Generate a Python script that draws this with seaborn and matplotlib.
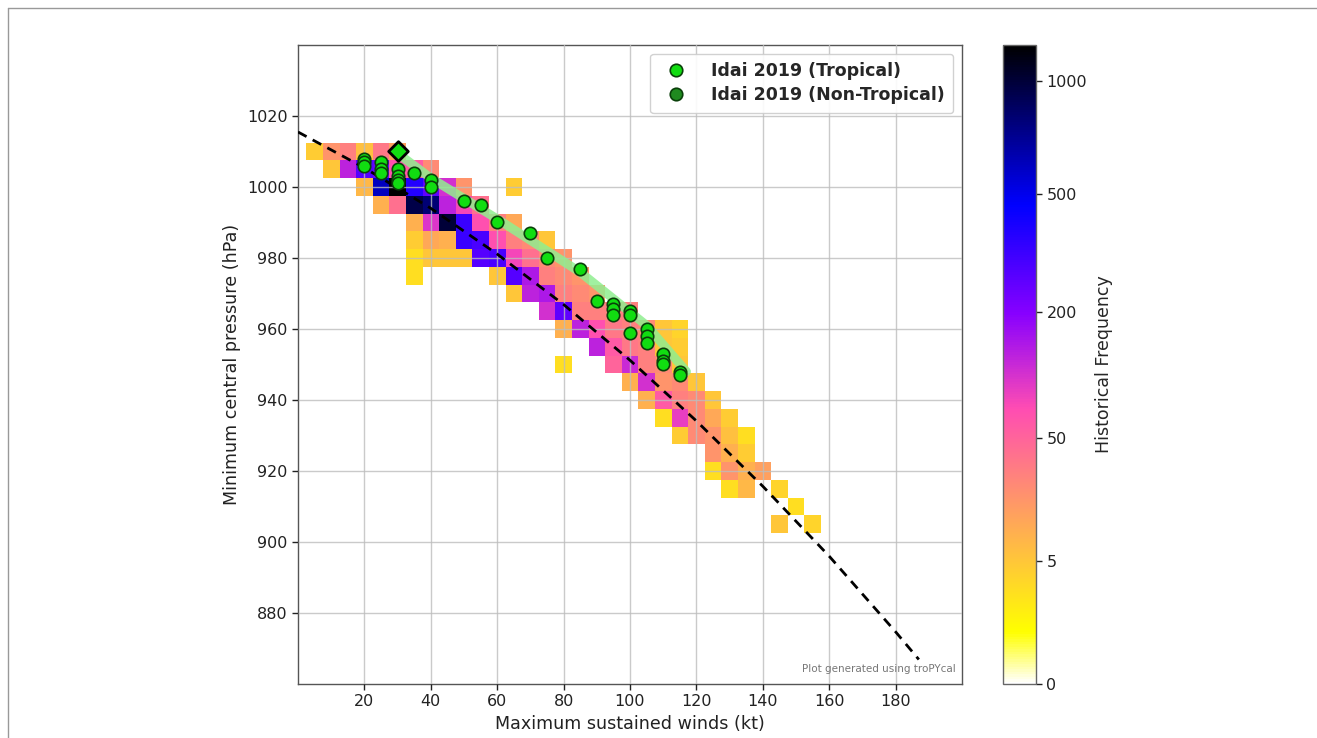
import numpy as np
import pandas as pd
import matplotlib
matplotlib.use("Agg")
import matplotlib.pyplot as plt
import matplotlib.colors as mcolors
from matplotlib.lines import Line2D
import seaborn as sns

# ---------------- data ----------------
# Historical wind/pressure histogram: 5-kt x 5-hPa cells (bin centres) and counts
cell_wind = [
    5, 10, 15, 20, 25, 30,                                  # 1010 hPa
    10, 15, 20, 25, 30, 35, 40,                              # 1005
    20, 25, 30, 35, 40, 45, 50, 65,                          # 1000
    25, 30, 35, 40, 45, 50, 55,                              # 995
    35, 40, 45, 50, 55, 60, 65,                              # 990
    35, 40, 45, 50, 55, 60, 65, 70, 75,                      # 985
    35, 40, 45, 50, 55, 60, 65, 70, 75, 80,                  # 980
    35, 60, 65, 70, 75, 80, 85,                              # 975
    65, 70, 75, 80, 85, 90,                                  # 970
    75, 80, 85, 90, 95, 100,                                 # 965
    80, 85, 90, 95, 100, 105, 110, 115,                      # 960
    90, 95, 100, 105, 110, 115,                              # 955
    80, 95, 100, 105, 110, 115,                              # 950
    100, 105, 110, 115, 120,                                 # 945
    105, 110, 115, 120, 125,                                 # 940
    110, 115, 120, 125, 130,                                 # 935
    115, 120, 125, 130, 135,                                 # 930
    125, 130, 135,                                           # 925
    125, 130, 135, 140,                                      # 920
    130, 135, 145,                                           # 915
    150,                                                     # 910
    145, 155,                                                # 905
]
cell_pres = (
    [1010] * 6 + [1005] * 7 + [1000] * 8 + [995] * 7 + [990] * 7 + [985] * 9
    + [980] * 10 + [975] * 7 + [970] * 6 + [965] * 6 + [960] * 8 + [955] * 6
    + [950] * 6 + [945] * 5 + [940] * 5 + [935] * 5 + [930] * 5 + [925] * 3
    + [920] * 4 + [915] * 3 + [910] * 1 + [905] * 2
)
cell_count = [
    4, 20, 30, 6, 35, 15,
    5, 130, 280, 250, 70, 60, 25,
    8, 600, 1212, 380, 260, 110, 20, 4,
    10, 40, 950, 800, 130, 80, 40,
    10, 100, 1000, 330, 70, 30, 12,
    4, 12, 10, 330, 300, 70, 30, 25, 5,
    2, 5, 5, 5, 280, 300, 80, 40, 25, 20,
    2, 5, 280, 150, 30, 25, 20,
    5, 130, 150, 30, 25, 20,
    110, 260, 30, 30, 30, 30,
    10, 130, 70, 35, 30, 25, 5, 3,
    130, 60, 35, 30, 5, 4,
    2, 50, 120, 30, 25, 5,
    10, 110, 20, 25, 5,
    10, 60, 30, 25, 5,
    2, 90, 25, 12, 4,
    4, 25, 20, 6, 2,
    20, 10, 4,
    2, 20, 10, 15,
    2, 8, 3,
    2,
    5, 3,
]

# Idai 2019 (tropical) observations
idai_wind = [20, 20, 20, 25, 25, 25, 30, 30, 30, 30, 35, 40, 40, 50, 55, 60, 70,
             75, 85, 90, 95, 95, 95, 100, 100, 100, 105, 105, 105, 110, 110, 110,
             115, 115]
idai_pres = [1008, 1007, 1006, 1007, 1005, 1004, 1005, 1003, 1002, 1001, 1004,
             1002, 1000, 996, 995, 990, 987, 980, 977, 968, 967, 965.5, 964, 965,
             964, 959, 960, 958, 956, 953, 951, 950, 948, 947]
peak_wind = [30]
peak_pres = [1010]

# Idai fit line (light green) and climatological fit (dashed black)
idai_fit_wind = [30, 40, 60, 85, 105, 117]
idai_fit_pres = [1009.5, 1002.5, 991, 976, 961, 948]
clim_fit_wind = [0, 20, 40, 60, 80, 100, 120, 140, 160, 180, 187]
clim_fit_pres = [1015.5, 1005.4, 994, 981.1, 966.9, 951.2, 934.1, 915.7, 896,
                 874.7, 866.9]

cbar_ticks = [0, 5, 50, 200, 500, 1000]
x_ticks = [20, 40, 60, 80, 100, 120, 140, 160, 180]
y_ticks = [880, 900, 920, 940, 960, 980, 1000, 1020]

# ---------------- drawing ----------------
sns.set_theme(style="white")
plt.rcParams["font.family"] = ["DejaVu Sans"]

W, H = 1317, 738
fig = plt.figure(figsize=(W / 100, H / 100), dpi=100)
fig.patch.set_facecolor("white")
ax = fig.add_axes([298 / W, 1 - 684 / H, 664 / W, 639 / H])
cax = fig.add_axes([1003 / W, 1 - 684 / H, 33 / W, 639 / H])

cells = pd.DataFrame({"wind": cell_wind, "pres": cell_pres, "count": cell_count})
sns.histplot(data=cells, x="wind", y="pres", weights="count",
             binwidth=(5, 5), binrange=((2.5, 157.5), (902.5, 1012.5)),
             cmap="gnuplot2_r", cbar=False, ax=ax)
mesh = ax.collections[-1]
norm = mcolors.PowerNorm(gamma=0.3, vmin=0, vmax=1212)
mesh.set_norm(norm)
mesh.set_zorder(1)

cb = fig.colorbar(mesh, cax=cax, ticks=cbar_ticks)
cb.set_label("Historical Frequency", fontsize=12.5, labelpad=6)
cb.ax.tick_params(labelsize=11.5, length=4, width=1, colors="#222222")
cb.outline.set_edgecolor("#666666")
cb.outline.set_linewidth(1)

# climatological fit
clim = pd.DataFrame({"wind": clim_fit_wind, "pres": clim_fit_pres})
sns.lineplot(data=clim, x="wind", y="pres", ax=ax, color="black",
             linestyle=(0, (3.5, 2.5)), linewidth=2, zorder=4, sort=False,
             estimator=None)

# Idai fit line
fitdf = pd.DataFrame({"wind": idai_fit_wind, "pres": idai_fit_pres})
sns.lineplot(data=fitdf, x="wind", y="pres", ax=ax, color="#90ee90",
             linewidth=6.5, alpha=0.85, zorder=5, sort=False, estimator=None,
             solid_capstyle="round")

# Idai observations
obs = pd.DataFrame({"wind": idai_wind, "pres": idai_pres})
sns.scatterplot(data=obs, x="wind", y="pres", ax=ax, color="#11dd11",
                edgecolor="#0a400a", linewidth=1.2, s=80, zorder=6)
pk = pd.DataFrame({"wind": peak_wind, "pres": peak_pres})
sns.scatterplot(data=pk, x="wind", y="pres", ax=ax, color="#11dd11",
                marker="D", edgecolor="black", linewidth=2, s=100, zorder=7)

ax.set_xlim(0, 200)
ax.set_ylim(860, 1040)
ax.set_xticks(x_ticks)
ax.set_yticks(y_ticks)
ax.grid(True, color="#bdbdbd", linewidth=1, alpha=0.8)
ax.set_axisbelow(False)
for ln in ax.get_xgridlines() + ax.get_ygridlines():
    ln.set_zorder(2)
ax.tick_params(axis="both", labelsize=11.5, length=4, width=1, colors="#222222",
               bottom=True, left=True)
for sp in ax.spines.values():
    sp.set_color("#555555")
    sp.set_linewidth(1)
ax.set_xlabel("Maximum sustained winds (kt)", fontsize=12.6, color="#222222")
ax.set_ylabel("Minimum central pressure (hPa)", fontsize=12.6, color="#222222")

handles = [
    Line2D([], [], marker="o", linestyle="none", markersize=9,
           markerfacecolor="#11dd11", markeredgecolor="#0a400a", markeredgewidth=1.2),
    Line2D([], [], marker="o", linestyle="none", markersize=9,
           markerfacecolor="#1f8a1f", markeredgecolor="#0a400a", markeredgewidth=1.2),
]
leg = ax.legend(handles, ["Idai 2019 (Tropical)", "Idai 2019 (Non-Tropical)"],
                loc="upper right", prop={"weight": "bold", "size": 12.5},
                frameon=True, framealpha=0.9, edgecolor="#cccccc",
                handletextpad=1.0, borderpad=0.5, labelspacing=0.35,
                borderaxespad=0.5)
leg.set_zorder(10)

ax.text(0.99, 0.015, "Plot generated using troPYcal", transform=ax.transAxes,
        ha="right", va="bottom", fontsize=7.5, color="#777777", zorder=8)

# outer frame lines of the original screenshot
fig.add_artist(Line2D([8 / W, 8 / W], [0, 1 - 8 / H], transform=fig.transFigure,
                      color="#999999", linewidth=1))
fig.add_artist(Line2D([8 / W, 1], [1 - 8 / H, 1 - 8 / H], transform=fig.transFigure,
                      color="#999999", linewidth=1))

fig.savefig("out.png", dpi=100, facecolor="white")
